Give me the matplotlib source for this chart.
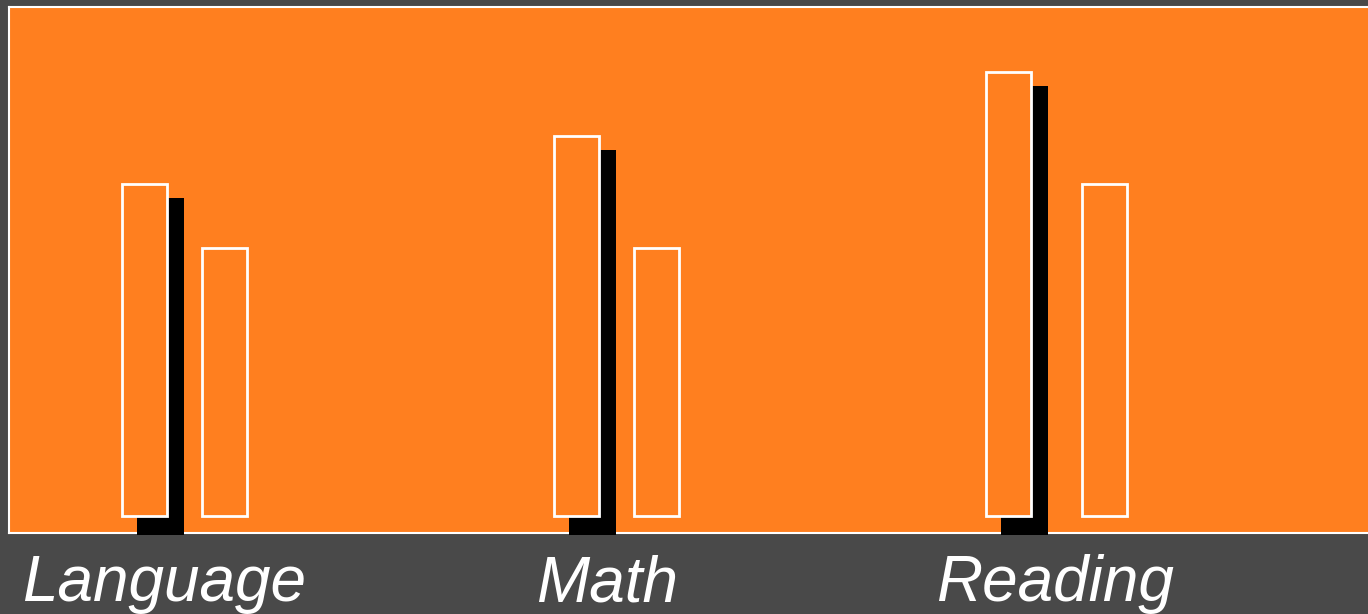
import matplotlib.pyplot as plt
import numpy as np

# chart data
categories = ['Language', 'Math', 'Reading']
series_a = [83, 95, 111]   # first bar in each group (with shadow)
series_b = [67, 67, 83]    # second bar in each group

# colours
bg = '#494949'
orange = '#FF7F1F'

# layout (one x unit = one category step)
px = 1.0 / 432             # one pixel in x data units
py = 0.25                  # one pixel in y data units
bar_w = 45 * px
off_a = -39.5 * px
off_b = [40.5 * px, 40.5 * px, 56.5 * px]
label_off = [-20 * px, -9 * px, 7 * px]
shadow_dx = 15.5 * px
shadow_bottom = -19 * py
shadow_extra = 5 * py

fig = plt.figure(figsize=(13.68, 6.14), dpi=100, facecolor=bg)
ax = fig.add_axes([9 / 1368, 1 - 533 / 614, 1361 / 1368, 526 / 614])
ax.set_facecolor(orange)

x = np.arange(len(categories))
xa = x + off_a
xb = x + np.array(off_b)

# shadow behind the first bars
ax.bar(xa + shadow_dx, np.array(series_a) + shadow_extra, width=bar_w + 2 * px,
       bottom=shadow_bottom, color='black', linewidth=0, zorder=3, clip_on=False)
ax.bar(xa, series_a, width=bar_w, color=orange, edgecolor='white',
       linewidth=2, zorder=4)
ax.bar(xb, series_b, width=bar_w, color=orange, edgecolor='white',
       linewidth=2, zorder=4)

ax.set_xlim(-175 * px, 1186 * px)
ax.set_ylim(-17 * py, 509 * py)

for s in ['left', 'top', 'bottom']:
    ax.spines[s].set_color('white')
    ax.spines[s].set_linewidth(1.5)
ax.spines['right'].set_visible(False)
ax.set_xticks([])
ax.set_yticks([])

for i, name in enumerate(categories):
    ax.text(x[i] + label_off[i], -85 * py, name, ha='center', va='baseline',
            color='white', fontsize=46, fontstyle='italic',
            family=['Liberation Sans', 'DejaVu Sans'], clip_on=False)

fig.savefig('out.png', dpi=100, facecolor=bg)
